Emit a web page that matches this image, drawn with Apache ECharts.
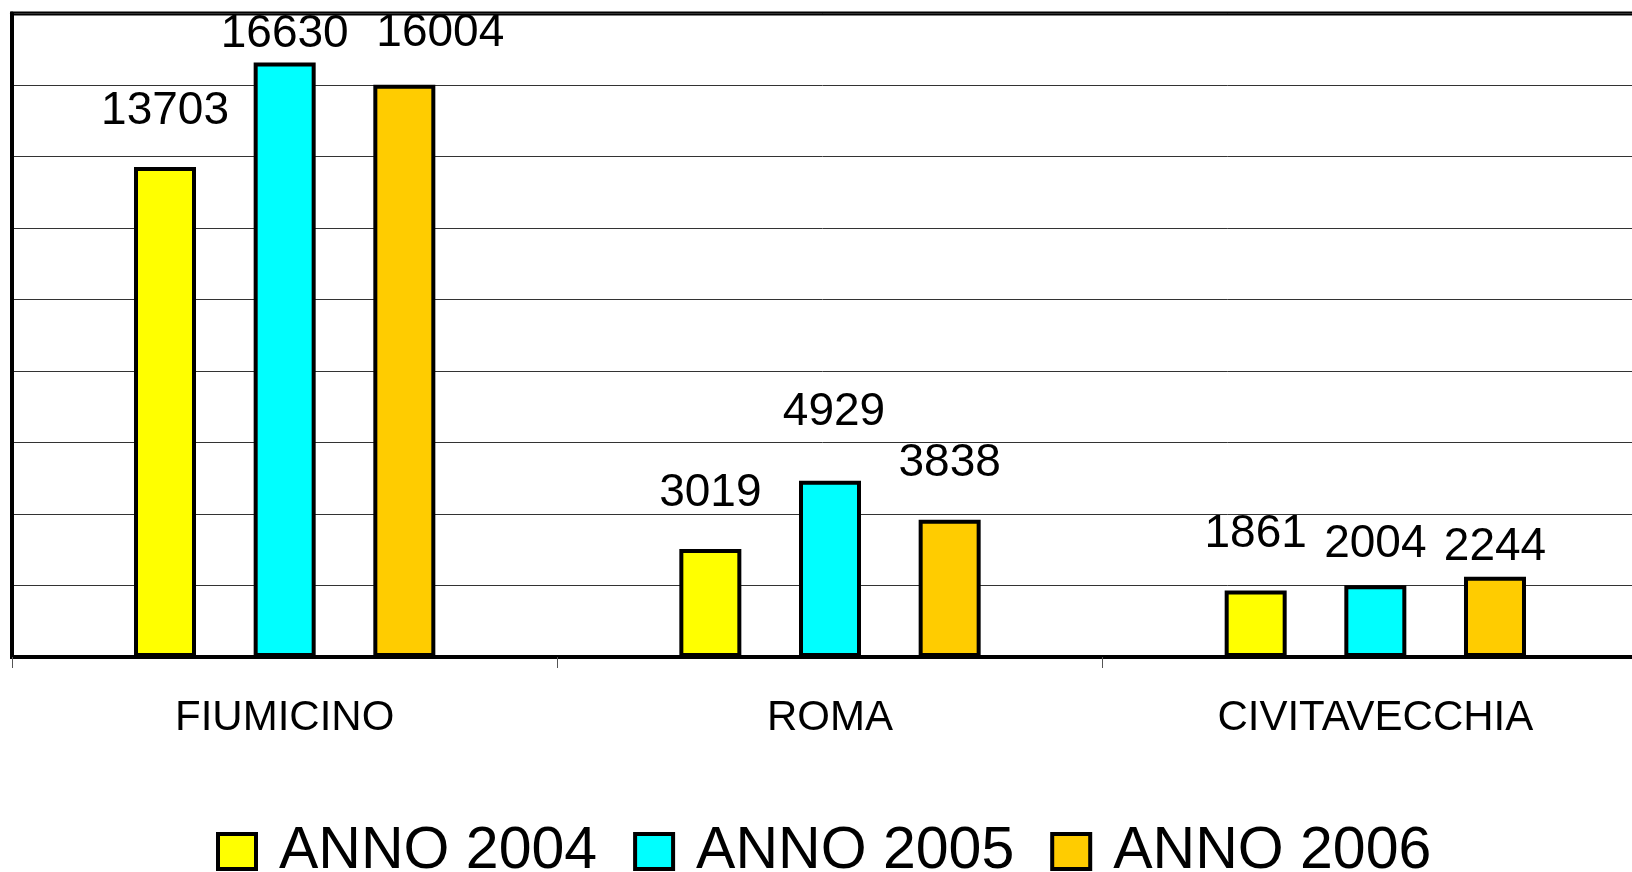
<!DOCTYPE html>
<html>
<head>
<meta charset="utf-8">
<script src="https://cdn.jsdelivr.net/npm/echarts@6/dist/echarts.min.js"></script>
<style>
html, body { margin: 0; padding: 0; background: #fff; }
#chart { width: 1632px; height: 872px; }
</style>
</head>
<body>
<div id="chart"></div>
<script>
var categories = ['FIUMICINO', 'ROMA', 'CIVITAVECCHIA'];
var seriesNames = ['ANNO 2004', 'ANNO 2005', 'ANNO 2006'];
var anno2004 = [13703, 3019, 1861];
var anno2005 = [16630, 4929, 2004];
var anno2006 = [16004, 3838, 2244];
var colors = ['#ffff00', '#00ffff', '#ffcc00'];

// label nudges, same layout as the original sheet: [series][category] -> [dx, dy]
var labelNudge = [
    [[0, 0], [0, 0], [0, 0]],
    [[0, 28], [4, -12], [0, 15]],
    [[36, 4], [0, 0], [0, 27]]
];

var font = 'Liberation Sans, Arial, sans-serif';

function buildSeries(name, values, idx) {
    return {
        name: name,
        type: 'bar',
        barWidth: 62,
        barGap: '93%',
        itemStyle: {
            color: colors[idx],
            borderColor: '#000',
            borderWidth: 4
        },
        label: {
            show: true,
            position: 'top',
            distance: 33,
            fontSize: 46,
            fontFamily: font,
            color: '#000'
        },
        data: values.map(function (v, i) {
            var n = labelNudge[idx][i];
            return { value: v, label: { offset: n } };
        })
    };
}

var chart = echarts.init(document.getElementById('chart'));
var option = {
    animation: false,
    backgroundColor: '#fff',
    grid: {
        left: 12,
        top: 13.5,
        width: 1636,
        height: 643.5,
        show: true,
        borderColor: '#000',
        borderWidth: 4,
        containLabel: false,
        outerBoundsMode: 'none'
    },
    legend: {
        data: seriesNames,
        left: 211,
        top: 817,
        itemWidth: 38,
        itemHeight: 35,
        itemGap: 36,
        icon: 'rect',
        itemStyle: { borderColor: '#000', borderWidth: 4 },
        textStyle: {
            fontSize: 59,
            fontFamily: font,
            color: '#000',
            padding: [0, 0, 0, 18]
        }
    },
    xAxis: {
        type: 'category',
        data: categories,
        boundaryGap: true,
        axisLine: { show: true, lineStyle: { color: '#000', width: 4 } },
        axisTick: { show: true, length: 11, lineStyle: { color: '#555', width: 1 } },
        axisLabel: {
            margin: 40,
            fontSize: 42,
            fontFamily: font,
            color: '#000'
        }
    },
    yAxis: {
        type: 'value',
        min: 0,
        max: 18000,
        interval: 2000,
        axisLine: { show: true, lineStyle: { color: '#000', width: 4 } },
        axisTick: { show: false },
        axisLabel: { show: false },
        splitLine: { show: true, lineStyle: { color: '#333', width: 1 } }
    },
    series: [
        buildSeries(seriesNames[0], anno2004, 0),
        buildSeries(seriesNames[1], anno2005, 1),
        buildSeries(seriesNames[2], anno2006, 2)
    ]
};
chart.setOption(option);
</script>
</body>
</html>
